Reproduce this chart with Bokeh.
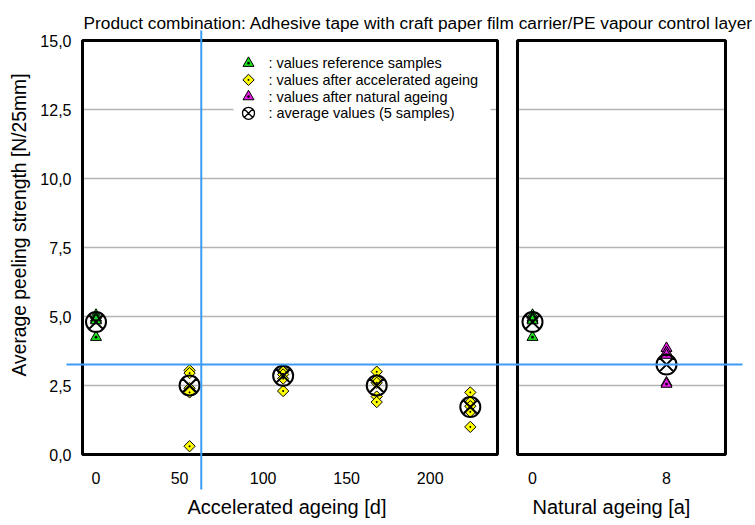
import numpy as np
from bokeh.plotting import figure
from bokeh.models import (Range1d, LinearAxis, FixedTicker, ColumnDataSource, Label)
from bokeh.core.properties import value
from bokeh.embed import file_html
from bokeh.resources import INLINE

# ---------------- data ----------------
title_text = "Product combination: Adhesive tape with craft paper film carrier/PE vapour control layer"
y_label = "Average peeling strength [N/25mm]"
acc_label = "Accelerated ageing [d]"
nat_label = "Natural ageing [a]"

ref_values = [5.05, 4.95, 4.90, 4.85, 4.25]      # reference samples (age 0)
ref_mean = 4.8

acc_days = [56, 112, 168, 224]
acc_values = [
    [3.05, 2.95, 2.40, 2.25, 0.30],
    [3.05, 3.00, 2.90, 2.75, 2.30],
    [3.00, 2.70, 2.60, 2.10, 1.90],
    [2.25, 1.90, 1.75, 1.55, 1.00],
]
acc_means = [2.5, 2.85, 2.5, 1.72]

nat_years = [8]
nat_values = [[3.85, 3.70, 3.60, 2.60, 2.55]]
nat_means = [3.26]

acc_ticks = [0, 50, 100, 150, 200]
nat_ticks = [0, 8]
y_ticks = [0.0, 2.5, 5.0, 7.5, 10.0, 12.5, 15.0]
y_tick_labels = ["0,0", "2,5", "5,0", "7,5", "10,0", "12,5", "15,0"]

legend_labels = [": values reference samples", ": values after accelerated ageing",
                 ": values after natural ageing", ": average values (5 samples)"]

cursor_day = 63.0          # blue cross-hair position (days)
cursor_value = nat_means[0]

# ---------------- geometry (pixels) ----------------
W, H = 755, 525
DAY0_PX, DAY_PX = 95.5, 1.671              # pixel of day 0, px per day
NAT0_PX, NAT_PX = 532.0, 16.75             # pixel of year 0, px per year
Y0_PX, Y_PX = 454.0, 27.6                  # pixel of value 0, px per unit
LP_L, LP_R = 82, 497                       # left panel border
RP_L, RP_R = 517, 725                      # right panel border
CH_L, CH_R, CH_T, CH_B = 66, 742, 30, 489  # cross-hair extents
LEG_L, LEG_R, LEG_T, LEG_B = 233, 490, 51, 126
LEG_MX, LEG_TX, LEG_Y0, LEG_DY = 248, 268, 62.7, 16.7
YLAB_T, YLAB_B = 73, 376                   # extent of the y-axis title

def day_at(px): return (px - DAY0_PX) / DAY_PX
def nat_at(px): return (px - NAT0_PX) / NAT_PX
def val_at(py): return (Y0_PX - py) / Y_PX

FONT = "Liberation Sans"

p = figure(width=W, height=H, output_backend="svg", toolbar_location=None,
           x_range=Range1d(day_at(0), day_at(W)),
           y_range=Range1d(val_at(H), val_at(0)),
           x_axis_location=None, y_axis_location=None,
           min_border=0, min_border_left=0, min_border_right=0,
           min_border_top=0, min_border_bottom=0)
p.extra_x_ranges = {"nat": Range1d(nat_at(0), nat_at(W))}
p.xgrid.visible = False
p.ygrid.visible = False
p.outline_line_color = None
p.background_fill_color = "white"
p.border_fill_color = "white"

# panel extents in data units
lp = (day_at(LP_L), day_at(LP_R))
rp = (nat_at(RP_L), nat_at(RP_R))
ymin, ymax = y_ticks[0], y_ticks[-1]

# gridlines
grid_y = y_ticks[1:-1]
p.segment(x0=[lp[0]] * len(grid_y), x1=[lp[1]] * len(grid_y), y0=grid_y, y1=grid_y,
          line_color="#b4b4b4", line_width=1.5)
p.segment(x0=[rp[0]] * len(grid_y), x1=[rp[1]] * len(grid_y), y0=grid_y, y1=grid_y,
          line_color="#b4b4b4", line_width=1.5, x_range_name="nat")

# legend background
p.quad(left=[day_at(LEG_L)], right=[day_at(LEG_R)], bottom=[val_at(LEG_B)],
       top=[val_at(LEG_T)], fill_color="white", line_color=None)

# panel frames
p.quad(left=[lp[0]], right=[lp[1]], bottom=[ymin], top=[ymax], fill_color=None,
       line_color="black", line_width=3)
p.quad(left=[rp[0]], right=[rp[1]], bottom=[ymin], top=[ymax], fill_color=None,
       line_color="black", line_width=3, x_range_name="nat")

GREEN, YELLOW, MAGENTA = "#19e019", "#ffff00", "#e619e6"

# reference samples (both panels, age 0)
ref_src = ColumnDataSource(dict(x=[0] * len(ref_values), y=ref_values))
p.scatter("x", "y", source=ref_src, marker="triangle_dot", size=11,
          fill_color=GREEN, line_color="black", line_width=1)
p.scatter("x", "y", source=ref_src, marker="triangle_dot", size=11,
          fill_color=GREEN, line_color="black", line_width=1, x_range_name="nat")

# accelerated ageing samples
ax, ay = [], []
for d, vals in zip(acc_days, acc_values):
    ax += [d] * len(vals)
    ay += vals
p.scatter(ax, ay, marker="square_dot", angle=np.pi / 4, size=8,
          fill_color=YELLOW, line_color="black", line_width=1)

# natural ageing samples
nx, ny = [], []
for a, vals in zip(nat_years, nat_values):
    nx += [a] * len(vals)
    ny += vals
p.scatter(nx, ny, marker="triangle_dot", size=11, fill_color=MAGENTA,
          line_color="black", line_width=1, x_range_name="nat")

# averages
p.scatter([0] + acc_days, [ref_mean] + acc_means, marker="circle_x", size=20,
          fill_color=None, line_color="black", line_width=2)
p.scatter([0] + nat_years, [ref_mean] + nat_means, marker="circle_x", size=20,
          fill_color=None, line_color="black", line_width=2, x_range_name="nat")

# legend (markers + texts)
leg_y = [val_at(LEG_Y0 + i * LEG_DY) for i in range(4)]
lx = day_at(LEG_MX)
p.scatter([lx], [leg_y[0]], marker="triangle_dot", size=11, fill_color=GREEN,
          line_color="black", line_width=1)
p.scatter([lx], [leg_y[1]], marker="square_dot", angle=np.pi / 4, size=8,
          fill_color=YELLOW, line_color="black", line_width=1)
p.scatter([lx], [leg_y[2]], marker="triangle_dot", size=11, fill_color=MAGENTA,
          line_color="black", line_width=1)
p.scatter([lx], [leg_y[3]], marker="circle_x", size=12, fill_color=None,
          line_color="black", line_width=1.3)
p.text(x=[day_at(LEG_TX)] * 4, y=leg_y, text=legend_labels, text_baseline="middle",
       text_font=value(FONT), text_font_size="14.5px", text_color="black")

# axes
yax = LinearAxis(ticker=FixedTicker(ticks=y_ticks),
                 major_label_overrides={t: l for t, l in zip(y_ticks, y_tick_labels)},
                 fixed_location=lp[0], bounds=(ymin, ymax))
ylab = LinearAxis(ticker=FixedTicker(ticks=[]), fixed_location=lp[0],
                  bounds=(val_at(YLAB_B), val_at(YLAB_T)), axis_label=y_label)
xa = LinearAxis(ticker=FixedTicker(ticks=acc_ticks), fixed_location=ymin,
                bounds=(lp[0], day_at(LP_R - 6)), axis_label=acc_label)
xn = LinearAxis(ticker=FixedTicker(ticks=nat_ticks), fixed_location=ymin,
                bounds=(rp[0], nat_at(RP_R - 20)), axis_label=nat_label, x_range_name="nat")
for ax_ in (yax, ylab, xa, xn):
    ax_.axis_line_color = None
    ax_.major_tick_line_color = None
    ax_.minor_tick_line_color = None
    ax_.major_tick_in = 0
    ax_.major_tick_out = 0
    ax_.major_label_text_font = FONT
    ax_.major_label_text_font_size = "16px"
    ax_.major_label_text_color = "black"
    ax_.axis_label_text_font = FONT
    ax_.axis_label_text_font_size = "20px"
    ax_.axis_label_text_font_style = "normal"
    ax_.axis_label_text_color = "black"
ylab.axis_label_text_font_size = "19.3px"
yax.major_label_standoff = 11
ylab.axis_label_standoff = 53
xa.major_label_standoff = 17
xn.major_label_standoff = 17
xa.axis_label_standoff = 9
xn.axis_label_standoff = 9
p.add_layout(yax, "left")
p.add_layout(ylab, "left")
p.add_layout(xa, "below")
p.add_layout(xn, "below")

# title
p.add_layout(Label(x=day_at(83), y=val_at(22.5), text=title_text, text_font=FONT,
                   text_font_size="17.3px", text_color="black", text_baseline="alphabetic"))

# cross-hair
p.segment(x0=[day_at(CH_L)], x1=[day_at(CH_R)], y0=[cursor_value], y1=[cursor_value],
          line_color="#3d9bf5", line_width=2)
p.segment(x0=[cursor_day], x1=[cursor_day], y0=[val_at(CH_B)], y1=[val_at(CH_T)],
          line_color="#3d9bf5", line_width=2)

open("out.html", "w").write(file_html(p, INLINE))
